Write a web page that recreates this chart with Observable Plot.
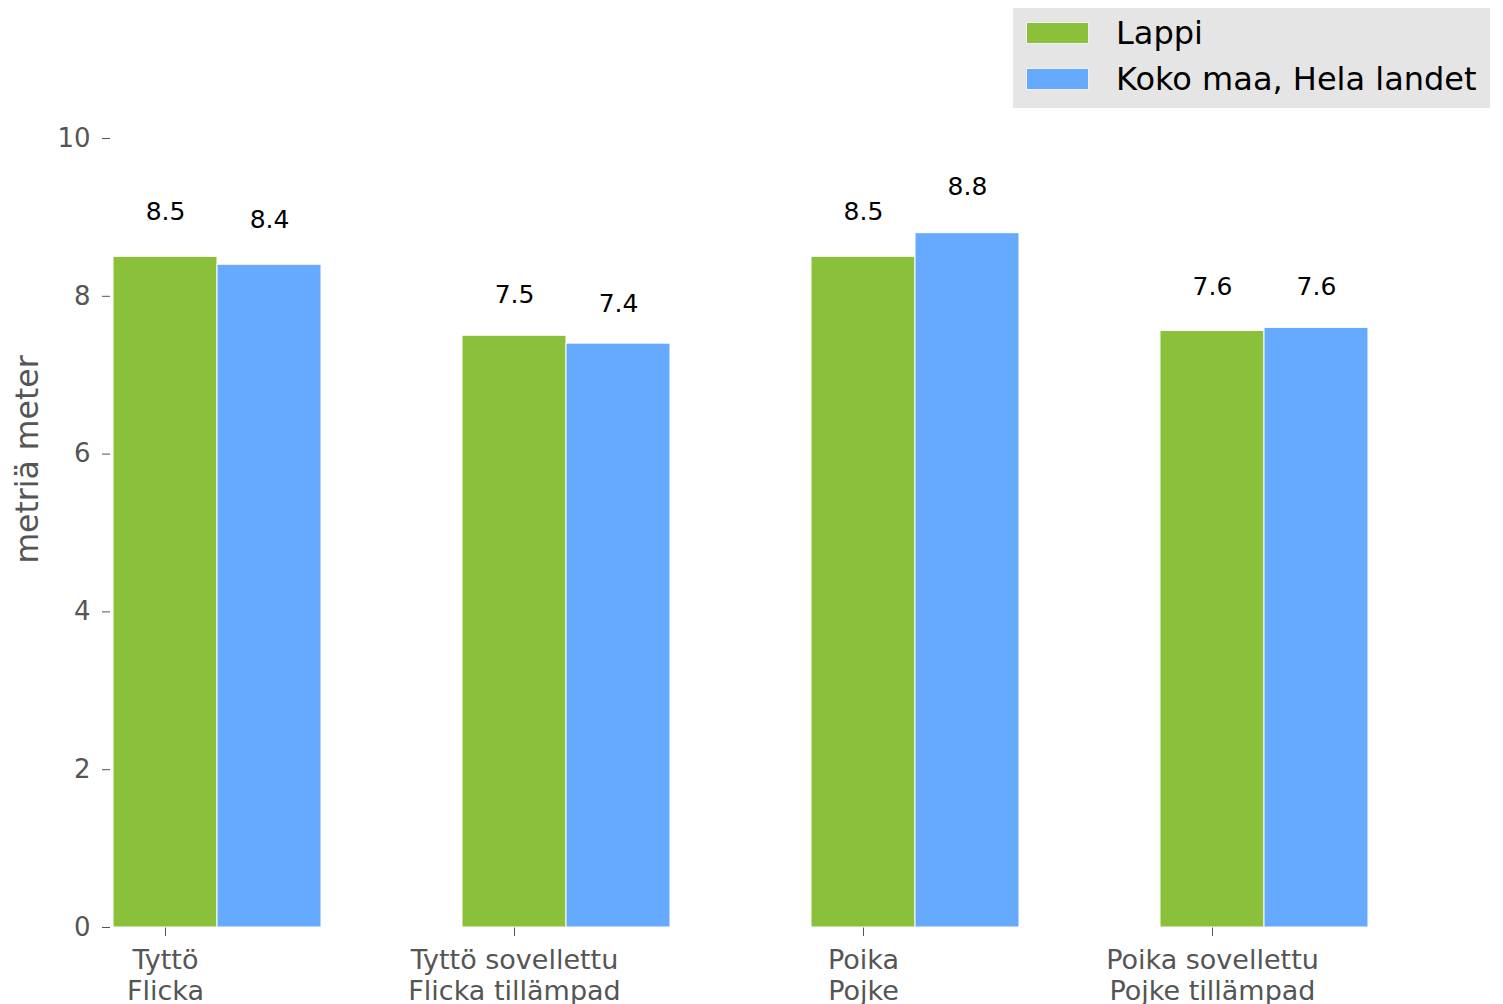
<!DOCTYPE html>
<html>
<head>
<meta charset="utf-8">
<script src="https://cdn.jsdelivr.net/npm/d3@7"></script>
<script src="https://cdn.jsdelivr.net/npm/@observablehq/plot@0.6"></script>
<style>
  body { margin: 0; background: #fff; font-family: "DejaVu Sans", sans-serif; }
  #wrap { width: 1503px; height: 1004px; overflow: hidden; }
  #legendRow { height: 115px; position: relative; }
  #legend { position: absolute; left: 1013px; top: 8px; width: 477px; height: 100px; background: #e5e5e5; box-sizing: border-box; }
  .item { position: absolute; left: 13px; display: flex; align-items: center; }
  .sw { width: 63px; height: 22px; box-sizing: border-box; border: 1px solid #f0f0f0; }
  .lab { margin-left: 27px; font-size: 32px; color: #000; line-height: 1; white-space: nowrap; }
  svg { display: block; }
</style>
</head>
<body>
<div id="wrap">
  <div id="legendRow"><div id="legend"></div></div>
  <div id="chart"></div>
</div>
<script>
const categories = ["Tyttö\nFlicka", "Tyttö sovellettu\nFlicka tillämpad", "Poika\nPojke", "Poika sovellettu\nPojke tillämpad"];
const seriesNames = ["Lappi", "Koko maa, Hela landet"];
const lappiValues = [8.5, 7.5, 8.5, 7.56];
const kokoMaaValues = [8.4, 7.4, 8.8, 7.6];
const seriesColors = ["#8bc13a", "#66aaff"];
const yTicks = [0, 2, 4, 6, 8, 10];
const yLabel = "metriä meter";

const lappi = categories.map((c, i) => ({category: c, series: seriesNames[0], value: lappiValues[i]}));
const koko = categories.map((c, i) => ({category: c, series: seriesNames[1], value: kokoMaaValues[i]}));

// legend
const legend = document.getElementById("legend");
seriesNames.forEach((s, i) => {
  const item = document.createElement("div");
  item.className = "item";
  item.style.top = (i === 0 ? 9 : 55) + "px";
  item.innerHTML = `<div class="sw" style="background:${seriesColors[i]}"></div><div class="lab">${s}</div>`;
  legend.appendChild(item);
});

const fmt = d3.format(".1f");
const shift = 104;

const chart = Plot.plot({
  width: 1503,
  height: 889,
  marginTop: 23,
  marginBottom: 77,
  marginLeft: 110,
  marginRight: 236,
  style: {fontFamily: "DejaVu Sans", fontSize: "26px", color: "#555555", background: "white"},
  x: {type: "band", domain: categories, paddingInner: 0.702, paddingOuter: 0.0086, round: false},
  y: {domain: [0, 10]},
  color: {domain: seriesNames, range: seriesColors},
  marks: [
    Plot.axisY({ticks: yTicks, tickSize: 8, tickPadding: 12, label: null, fontSize: 26, tickFormat: d => String(d)}),
    Plot.axisX({tickSize: 9, tickPadding: 11, label: null, fontSize: 27, lineHeight: 1.13}),
    Plot.barY(lappi, {x: "category", y: "value", fill: "series", stroke: "white", strokeWidth: 1}),
    Plot.barY(koko, {x: "category", y: "value", fill: "series", stroke: "white", strokeWidth: 1, dx: shift}),
    Plot.text(lappi, {x: "category", y: d => +fmt(d.value) * 1.055, text: d => fmt(d.value), lineAnchor: "bottom", fill: "black", fontSize: 25}),
    Plot.text(koko, {x: "category", y: d => +fmt(d.value) * 1.055, text: d => fmt(d.value), lineAnchor: "bottom", fill: "black", fontSize: 25, dx: shift}),
    Plot.text([yLabel], {frameAnchor: "top-left", text: d => d, textAnchor: "middle", lineAnchor: "middle", rotate: -90, dx: -83, dy: 321, fontSize: 31.5, fill: "#555555"})
  ]
});
document.getElementById("chart").appendChild(chart);
</script>
</body>
</html>
